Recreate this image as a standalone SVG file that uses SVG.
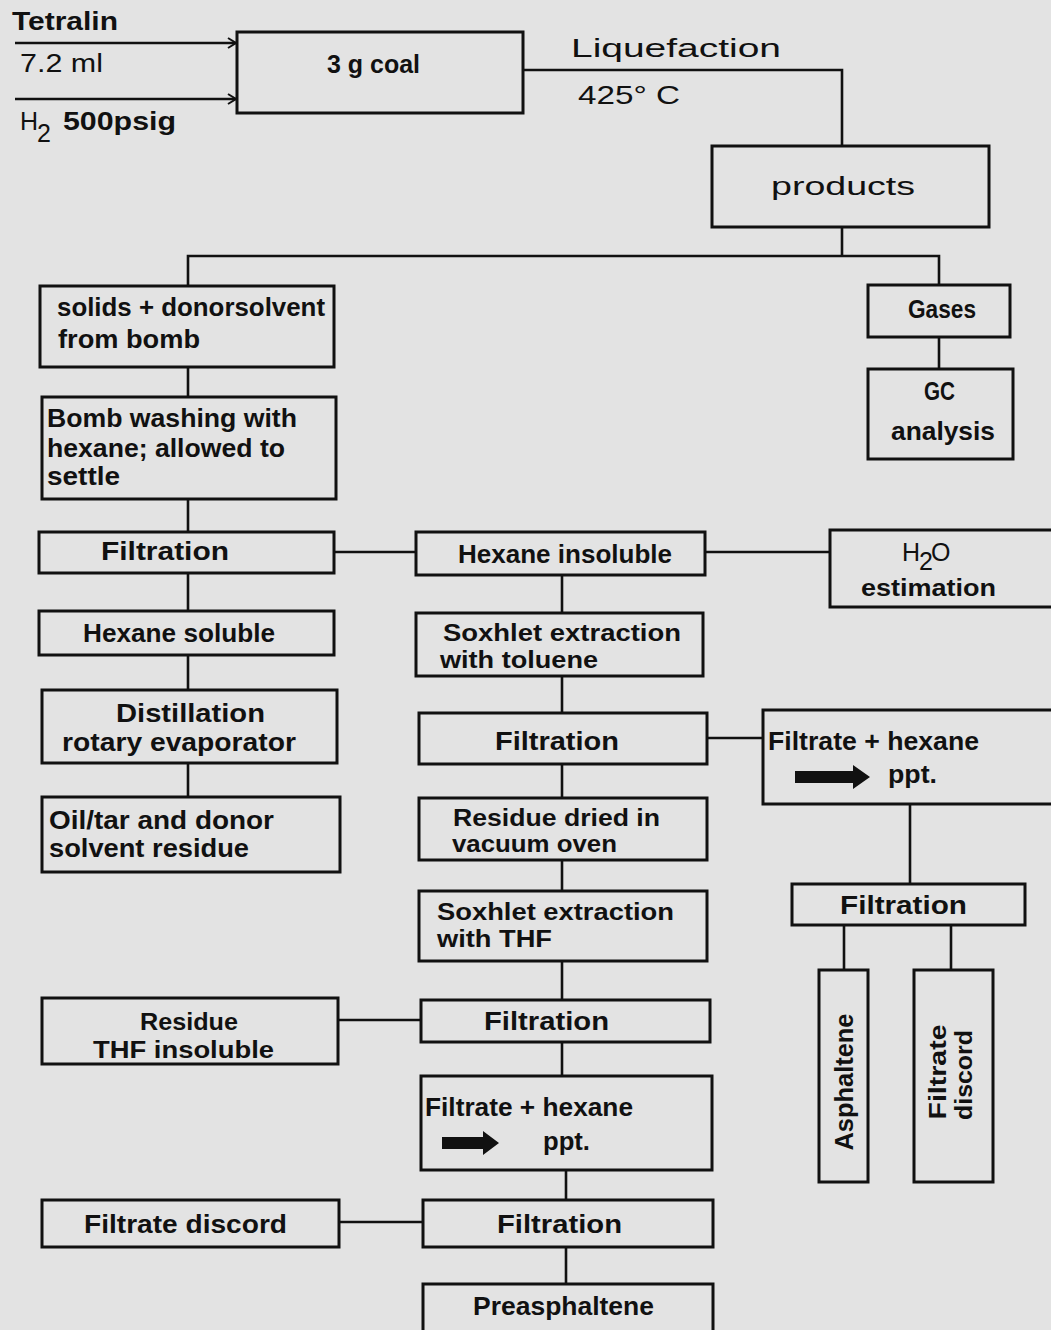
<svg xmlns="http://www.w3.org/2000/svg" width="1051" height="1330" viewBox="0 0 1051 1330">
<defs>
<style>
.b{fill:none;stroke:#111;stroke-width:3}
.c{fill:none;stroke:#111;stroke-width:2.6}
text{font-family:"Liberation Sans",Arial,sans-serif;font-weight:bold;font-size:25px;fill:#111}
.s{font-size:23px}
.t{font-weight:normal}
.m{text-anchor:middle}
</style>
<marker id="ah" markerWidth="12" markerHeight="12" refX="10" refY="6" orient="auto" markerUnits="userSpaceOnUse">
<polyline points="2,1 10,6 2,11" fill="none" stroke="#111" stroke-width="2"/>
</marker>
</defs>
<rect width="1051" height="1330" fill="#e3e3e3"/>

<g id="connectors">
<line class="c" x1="15" y1="43" x2="236" y2="43" marker-end="url(#ah)"/>
<line class="c" x1="15" y1="99" x2="236" y2="99" marker-end="url(#ah)"/>
<polyline class="c" points="523,70 842,70 842,146"/>
<line class="c" x1="842" y1="227" x2="842" y2="256"/>
<polyline class="c" points="188,286 188,256 939,256 939,285"/>
<line class="c" x1="939" y1="337" x2="939" y2="369"/>
<line class="c" x1="188" y1="367" x2="188" y2="397"/>
<line class="c" x1="188" y1="499" x2="188" y2="532"/>
<line class="c" x1="334" y1="552" x2="416" y2="552"/>
<line class="c" x1="705" y1="552" x2="830" y2="552"/>
<line class="c" x1="188" y1="573" x2="188" y2="611"/>
<line class="c" x1="188" y1="655" x2="188" y2="690"/>
<line class="c" x1="188" y1="763" x2="188" y2="797"/>
<line class="c" x1="562" y1="575" x2="562" y2="613"/>
<line class="c" x1="562" y1="676" x2="562" y2="713"/>
<line class="c" x1="707" y1="738" x2="763" y2="738"/>
<line class="c" x1="910" y1="804" x2="910" y2="884"/>
<line class="c" x1="844" y1="925" x2="844" y2="970"/>
<line class="c" x1="951" y1="925" x2="951" y2="970"/>
<line class="c" x1="562" y1="764" x2="562" y2="798"/>
<line class="c" x1="562" y1="860" x2="562" y2="891"/>
<line class="c" x1="562" y1="961" x2="562" y2="1000"/>
<line class="c" x1="338" y1="1020" x2="421" y2="1020"/>
<line class="c" x1="562" y1="1042" x2="562" y2="1076"/>
<line class="c" x1="566" y1="1170" x2="566" y2="1200"/>
<line class="c" x1="339" y1="1222" x2="423" y2="1222"/>
<line class="c" x1="566" y1="1247" x2="566" y2="1284"/>
</g>

<g id="inputs">
<text x="12" y="30" textLength="106" lengthAdjust="spacingAndGlyphs">Tetralin</text>
<text x="20" y="72" class="t" textLength="83" lengthAdjust="spacingAndGlyphs">7.2 ml</text>
<text x="20" y="130" class="t">H</text>
<text x="37" y="142" class="t" font-size="20">2</text>
<text x="63" y="130" textLength="113" lengthAdjust="spacingAndGlyphs">500psig</text>
</g>

<g id="coal">
<rect class="b" x="237" y="32" width="286" height="81"/>
<text x="327" y="73" textLength="93" lengthAdjust="spacingAndGlyphs">3 g coal</text>
</g>

<g id="liquefaction">
<text x="571" y="57" class="t" font-size="28" textLength="210" lengthAdjust="spacingAndGlyphs">Liquefaction</text>
<text x="578" y="104" class="t" font-size="28" textLength="102" lengthAdjust="spacingAndGlyphs">425° C</text>
</g>

<g id="products">
<rect class="b" x="712" y="146" width="277" height="81"/>
<text x="771" y="195" class="t" font-size="30" textLength="144" lengthAdjust="spacingAndGlyphs">products</text>
</g>

<g id="solids">
<rect class="b" x="40" y="286" width="294" height="81"/>
<text x="57" y="316" textLength="268" lengthAdjust="spacingAndGlyphs">solids + donorsolvent</text>
<text x="58" y="348" textLength="142" lengthAdjust="spacingAndGlyphs">from bomb</text>
</g>

<g id="gases">
<rect class="b" x="868" y="285" width="142" height="52"/>
<text x="908" y="318" textLength="68" lengthAdjust="spacingAndGlyphs">Gases</text>
</g>

<g id="gc">
<rect class="b" x="868" y="369" width="145" height="90"/>
<text x="924" y="400" textLength="31" lengthAdjust="spacingAndGlyphs">GC</text>
<text x="891" y="440" textLength="104" lengthAdjust="spacingAndGlyphs">analysis</text>
</g>

<g id="bombwash">
<rect class="b" x="42" y="397" width="294" height="102"/>
<text x="47" y="427" textLength="250" lengthAdjust="spacingAndGlyphs">Bomb washing with</text>
<text x="47" y="457" textLength="238" lengthAdjust="spacingAndGlyphs">hexane; allowed to</text>
<text x="47" y="485" textLength="73" lengthAdjust="spacingAndGlyphs">settle</text>
</g>

<g id="filtration1">
<rect class="b" x="39" y="532" width="295" height="41"/>
<text x="101" y="560" textLength="128" lengthAdjust="spacingAndGlyphs">Filtration</text>
</g>

<g id="hexaneinsoluble">
<rect class="b" x="416" y="532" width="289" height="43"/>
<text x="458" y="563" textLength="214" lengthAdjust="spacingAndGlyphs">Hexane insoluble</text>
</g>

<g id="h2o">
<rect class="b" x="830" y="530" width="224" height="77"/>
<text x="902" y="561" class="t" font-size="23">H</text>
<text x="919" y="570" class="t" font-size="19">2</text>
<text x="931" y="561" class="t" font-size="23">O</text>
<text x="861" y="596" class="s" textLength="135" lengthAdjust="spacingAndGlyphs">estimation</text>
</g>

<g id="hexanesoluble">
<rect class="b" x="39" y="611" width="295" height="44"/>
<text x="83" y="642" textLength="192" lengthAdjust="spacingAndGlyphs">Hexane soluble</text>
</g>

<g id="distillation">
<rect class="b" x="42" y="690" width="295" height="73"/>
<text x="116" y="722" textLength="149" lengthAdjust="spacingAndGlyphs">Distillation</text>
<text x="62" y="751" textLength="234" lengthAdjust="spacingAndGlyphs">rotary evaporator</text>
</g>

<g id="oiltar">
<rect class="b" x="42" y="797" width="298" height="75"/>
<text x="49" y="829" textLength="225" lengthAdjust="spacingAndGlyphs">Oil/tar and donor</text>
<text x="49" y="857" textLength="200" lengthAdjust="spacingAndGlyphs">solvent residue</text>
</g>

<g id="soxhlettoluene">
<rect class="b" x="416" y="613" width="287" height="63"/>
<text x="443" y="641" class="s" textLength="238" lengthAdjust="spacingAndGlyphs">Soxhlet extraction</text>
<text x="440" y="668" class="s" textLength="158" lengthAdjust="spacingAndGlyphs">with toluene</text>
</g>

<g id="filtration2">
<rect class="b" x="419" y="713" width="288" height="51"/>
<text x="495" y="750" textLength="124" lengthAdjust="spacingAndGlyphs">Filtration</text>
</g>

<g id="filtratehexane1">
<rect class="b" x="763" y="710" width="291" height="94"/>
<text x="768" y="750" textLength="211" lengthAdjust="spacingAndGlyphs">Filtrate + hexane</text>
<polygon points="795,771 853,771 853,765 870,777 853,789 853,783 795,783" fill="#111"/>
<text x="888" y="783" textLength="49" lengthAdjust="spacingAndGlyphs">ppt.</text>
</g>

<g id="filtration3">
<rect class="b" x="792" y="884" width="233" height="41"/>
<text x="840" y="914" textLength="127" lengthAdjust="spacingAndGlyphs">Filtration</text>
</g>

<g id="asphaltene">
<rect class="b" x="819" y="970" width="49" height="212"/>
<text transform="translate(853,1082) rotate(-90)" class="m" textLength="137" lengthAdjust="spacingAndGlyphs">Asphaltene</text>
</g>

<g id="filtratediscord1">
<rect class="b" x="914" y="970" width="79" height="212"/>
<text transform="translate(946,1072) rotate(-90)" class="m s" textLength="95" lengthAdjust="spacingAndGlyphs">Filtrate</text>
<text transform="translate(972,1075) rotate(-90)" class="m s" textLength="90" lengthAdjust="spacingAndGlyphs">discord</text>
</g>

<g id="residuedried">
<rect class="b" x="419" y="798" width="288" height="62"/>
<text x="453" y="826" class="s" textLength="207" lengthAdjust="spacingAndGlyphs">Residue dried in</text>
<text x="452" y="852" class="s" textLength="165" lengthAdjust="spacingAndGlyphs">vacuum oven</text>
</g>

<g id="soxhletthf">
<rect class="b" x="419" y="891" width="288" height="70"/>
<text x="437" y="920" class="s" textLength="237" lengthAdjust="spacingAndGlyphs">Soxhlet extraction</text>
<text x="437" y="947" class="s" textLength="115" lengthAdjust="spacingAndGlyphs">with THF</text>
</g>

<g id="residuethf">
<rect class="b" x="42" y="998" width="296" height="66"/>
<text x="140" y="1030" class="s" textLength="98" lengthAdjust="spacingAndGlyphs">Residue</text>
<text x="93" y="1058" class="s" textLength="181" lengthAdjust="spacingAndGlyphs">THF insoluble</text>
</g>

<g id="filtration4">
<rect class="b" x="421" y="1000" width="289" height="42"/>
<text x="484" y="1030" textLength="125" lengthAdjust="spacingAndGlyphs">Filtration</text>
</g>

<g id="filtratehexane2">
<rect class="b" x="421" y="1076" width="291" height="94"/>
<text x="425" y="1116" textLength="208" lengthAdjust="spacingAndGlyphs">Filtrate + hexane</text>
<polygon points="442,1137 483,1137 483,1131 499,1143 483,1155 483,1149 442,1149" fill="#111"/>
<text x="543" y="1150" textLength="47" lengthAdjust="spacingAndGlyphs">ppt.</text>
</g>

<g id="filtration5">
<rect class="b" x="423" y="1200" width="290" height="47"/>
<text x="497" y="1233" textLength="125" lengthAdjust="spacingAndGlyphs">Filtration</text>
</g>

<g id="filtratediscord2">
<rect class="b" x="42" y="1200" width="297" height="47"/>
<text x="84" y="1233" textLength="203" lengthAdjust="spacingAndGlyphs">Filtrate discord</text>
</g>

<g id="preasphaltene">
<rect class="b" x="423" y="1284" width="290" height="48"/>
<text x="473" y="1315" textLength="181" lengthAdjust="spacingAndGlyphs">Preasphaltene</text>
</g>
</svg>
